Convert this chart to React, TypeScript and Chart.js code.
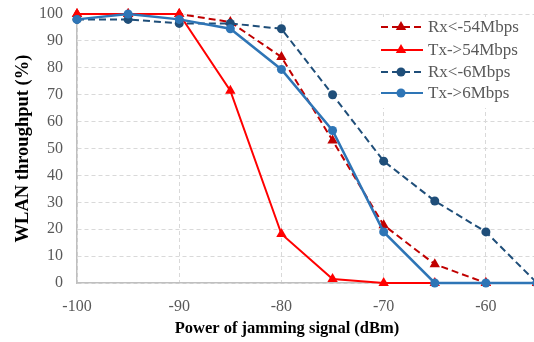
import React, { useEffect, useRef } from "react";
import { Chart, registerables } from "chart.js";

Chart.register(...registerables);

const powerLevels = [-100, -95, -90, -85, -80, -75, -70, -65, -60, -55];
const rx54 = [100, 100, 100, 97, 84, 53, 21.5, 7, 0, 0];
const tx54 = [100, 100, 100, 71.5, 18.2, 1.5, 0, 0, 0, 0];
const rx6 = [98, 98, 96.5, 96.5, 94.5, 70, 45.3, 30.5, 19, 0];
const tx6 = [98, 100, 98, 94.5, 79.4, 56.7, 19, 0, 0, 0];
const seriesNames = ["Rx<-54Mbps", "Tx->54Mbps", "Rx<-6Mbps", "Tx->6Mbps"];
const xTicks = [-100, -90, -80, -70, -60];
const yTicks = [0, 10, 20, 30, 40, 50, 60, 70, 80, 90, 100];
const xTitle = "Power of jamming signal (dBm)";
const yTitle = "WLAN throughput (%)";

const FONT = "'Liberation Serif', 'Times New Roman', serif";
const COLORS = ["#C00000", "#FF0000", "#1F4E79", "#2E75B6"];
const DASHED = [true, false, true, false];
const MARKERS = ["triangle", "triangle", "circle", "circle"];

const legendPlugin = {
  id: "insideLegend",
  afterDraw(chart: any) {
    const ctx = chart.ctx;
    const area = chart.chartArea;
    const x0 = 380;
    const y0 = area.top + 3;
    ctx.save();
    ctx.fillStyle = "#ffffff";
    ctx.fillRect(x0, y0, chart.width - x0, 91);
    const rows = [27, 50, 72, 93];
    seriesNames.forEach((name, i) => {
      const y = rows[i];
      ctx.strokeStyle = COLORS[i];
      ctx.lineWidth = 2;
      ctx.setLineDash(DASHED[i] ? [7, 4] : []);
      ctx.beginPath();
      ctx.moveTo(x0 + 1, y);
      ctx.lineTo(x0 + 43, y);
      ctx.stroke();
      ctx.setLineDash([]);
      ctx.fillStyle = COLORS[i];
      const cx = x0 + 21;
      ctx.beginPath();
      if (MARKERS[i] === "circle") {
        ctx.arc(cx, y, 4.5, 0, Math.PI * 2);
      } else {
        const r = 6;
        ctx.moveTo(cx, y - r);
        ctx.lineTo(cx + r * 0.866, y + r * 0.5);
        ctx.lineTo(cx - r * 0.866, y + r * 0.5);
        ctx.closePath();
      }
      ctx.fill();
      ctx.fillStyle = "#595959";
      ctx.font = `17px ${FONT}`;
      ctx.textBaseline = "middle";
      ctx.textAlign = "left";
      ctx.fillText(name, x0 + 48, y + 1);
    });
    // x-axis title
    ctx.fillStyle = "#000000";
    ctx.font = `bold 16.5px ${FONT}`;
    ctx.textAlign = "center";
    ctx.textBaseline = "middle";
    ctx.fillText(xTitle, 287, 329);
    ctx.restore();
  },
};

export default function App() {
  const canvasRef = useRef<HTMLCanvasElement | null>(null);

  useEffect(() => {
    const canvas = canvasRef.current;
    if (!canvas) return;
    const allData = [rx54, tx54, rx6, tx6];
    const orders = [4, 3, 2, 1];
    const chart = new Chart(canvas, {
      type: "line",
      data: {
        datasets: allData.map((vals, i) => ({
          label: seriesNames[i],
          data: powerLevels.map((p, j) => ({ x: p, y: vals[j] })),
          borderColor: COLORS[i],
          backgroundColor: COLORS[i],
          borderWidth: i === 3 ? 2.5 : 2,
          borderDash: DASHED[i] ? [7, 4] : [],
          pointStyle: MARKERS[i] as any,
          pointRadius: MARKERS[i] === "circle" ? 4.5 : 6,
          pointBorderWidth: 0,
          pointBackgroundColor: COLORS[i],
          tension: 0,
          clip: false as any,
          order: orders[i],
        })),
      },
      options: {
        animation: false,
        responsive: false,
        maintainAspectRatio: false,
        layout: { padding: { top: 14, right: 2, left: 0, bottom: 0 } },
        plugins: {
          legend: { display: false },
          tooltip: { enabled: false },
        },
        scales: {
          x: {
            type: "linear",
            min: -100,
            max: -55,
            afterFit: (s: any) => {
              s.height = 59;
              s.paddingLeft = 0;
              s.paddingRight = 0;
            },
            afterBuildTicks: (s: any) => {
              s.ticks = xTicks.map((v) => ({ value: v }));
            },
            ticks: {
              color: "#595959",
              font: { family: FONT, size: 16 },
              padding: 14,
              maxRotation: 0,
            },
            grid: {
              color: "#d9d9d9",
              lineWidth: 1,
              drawTicks: false,
            },
            border: { display: true, color: "#bfbfbf", width: 1.5, dash: [4, 3] },
            title: { display: false },
          },
          y: {
            type: "linear",
            min: 0,
            max: 100,
            afterFit: (s: any) => {
              s.width = 77;
              s.paddingTop = 0;
              s.paddingBottom = 0;
            },
            afterBuildTicks: (s: any) => {
              s.ticks = yTicks.map((v) => ({ value: v }));
            },
            ticks: {
              color: "#595959",
              font: { family: FONT, size: 16 },
              padding: 14,
            },
            grid: {
              color: "#d9d9d9",
              lineWidth: 1,
              drawTicks: false,
            },
            border: { display: true, color: "#bfbfbf", width: 1.5, dash: [4, 3] },
            title: {
              display: true,
              text: yTitle,
              color: "#000000",
              font: { family: FONT, size: 18.5, weight: "bold" },
              padding: { top: 12, bottom: 0 },
            },
          },
        },
      },
      plugins: [legendPlugin],
    });
    return () => chart.destroy();
  }, []);

  return (
    <div
      style={{
        position: "absolute",
        left: 0,
        top: 0,
        width: 534,
        height: 342,
        overflow: "hidden",
        background: "#ffffff",
      }}
    >
      <canvas ref={canvasRef} width={543} height={342} style={{ display: "block" }} />
    </div>
  );
}
